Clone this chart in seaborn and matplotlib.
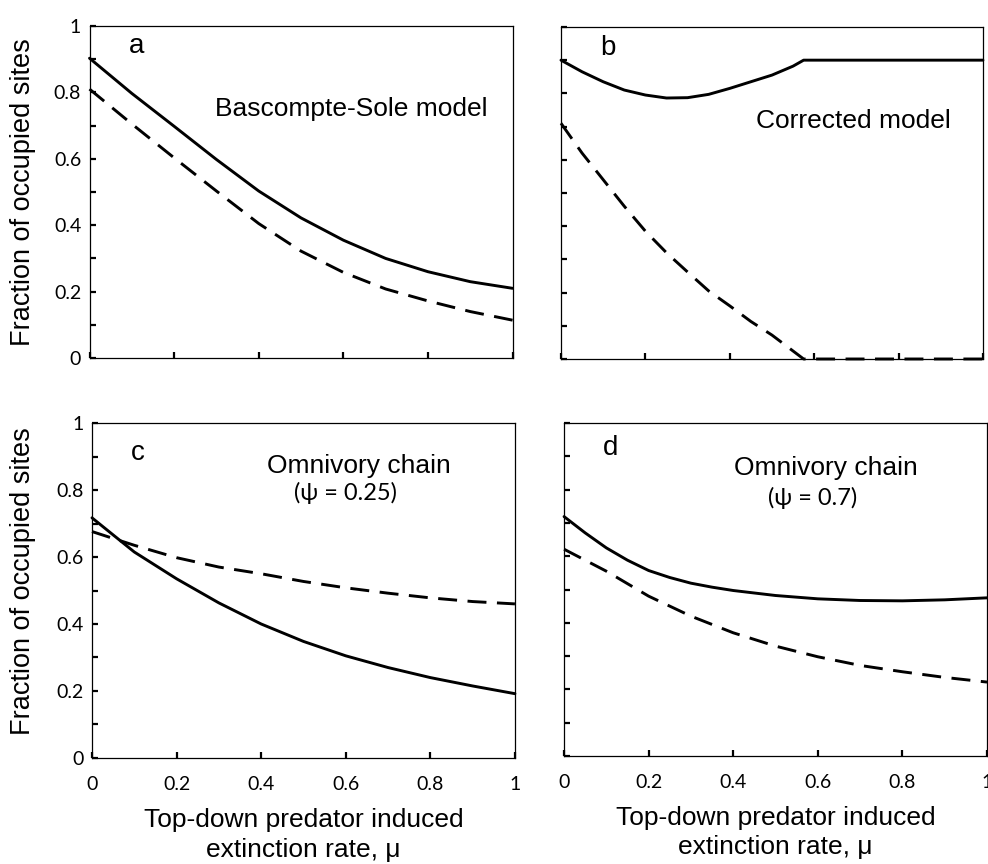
import matplotlib
matplotlib.use("Agg")
import matplotlib.pyplot as plt
import seaborn as sns
from matplotlib.ticker import MultipleLocator

# values
mu = [0.0, 0.1, 0.2, 0.3, 0.4, 0.5, 0.6, 0.7, 0.8, 0.9, 1.0]

# a: Bascompte-Sole model
a_solid = [0.903, 0.797, 0.698, 0.598, 0.503, 0.422, 0.355, 0.300, 0.260, 0.230, 0.210]
a_dashed = [0.810, 0.705, 0.603, 0.503, 0.405, 0.322, 0.258, 0.208, 0.172, 0.140, 0.114]

# b: corrected model
mu_b = [0.0, 0.05, 0.1, 0.15, 0.2, 0.25, 0.3, 0.35, 0.4, 0.45, 0.5, 0.55, 0.575, 1.0]
b_solid = [0.900, 0.865, 0.835, 0.810, 0.795, 0.786, 0.787, 0.797, 0.815, 0.835, 0.855, 0.882, 0.900, 0.900]
mu_b_dash = [0.0, 0.05, 0.1, 0.15, 0.2, 0.25, 0.3, 0.35, 0.4, 0.45, 0.5, 0.575, 1.0]
b_dashed = [0.710, 0.620, 0.540, 0.460, 0.385, 0.320, 0.262, 0.205, 0.160, 0.113, 0.072, 0.0, 0.0]

# c: omnivory chain, psi = 0.25
c_solid = [0.717, 0.615, 0.535, 0.463, 0.400, 0.348, 0.305, 0.270, 0.240, 0.215, 0.192]
c_dashed = [0.676, 0.635, 0.598, 0.570, 0.550, 0.527, 0.508, 0.492, 0.478, 0.467, 0.460]

# d: omnivory chain, psi = 0.7
mu_d = [0.0, 0.05, 0.1, 0.15, 0.2, 0.25, 0.3, 0.35, 0.4, 0.5, 0.6, 0.7, 0.8, 0.9, 1.0]
d_solid = [0.719, 0.670, 0.625, 0.588, 0.557, 0.536, 0.519, 0.507, 0.497, 0.482, 0.472,
           0.467, 0.466, 0.469, 0.475]
d_dashed = [0.621, 0.555, 0.480, 0.420, 0.370, 0.330, 0.298, 0.272, 0.253, 0.236, 0.222]

tick_vals = [0, 0.2, 0.4, 0.6, 0.8, 1]
tick_labels = ["0", "0.2", "0.4", "0.6", "0.8", "1"]

sns.set_style("ticks")
plt.rcParams["font.family"] = ["Liberation Sans", "DejaVu Sans"]
plt.rcParams["xtick.direction"] = "in"
plt.rcParams["ytick.direction"] = "in"
plt.rcParams["text.color"] = "black"
plt.rcParams["axes.labelcolor"] = "black"
plt.rcParams["xtick.color"] = "black"
plt.rcParams["ytick.color"] = "black"

fig = plt.figure(figsize=(9.88, 8.64), dpi=100)

panels = [
    dict(rect=[0.0906, 0.5856, 0.4282, 0.3843], xs=mu, ys=a_solid, xd=mu, yd=a_dashed,
         letter="a", letter_pos=(0.111, 0.918),
         texts=[("Bascompte-Sole model", 0.618, 0.729, 19, "Liberation Sans")],
         xlab=False, ylab=True),
    dict(rect=[0.5678, 0.5845, 0.4271, 0.3843], xs=mu_b, ys=b_solid, xd=mu_b_dash, yd=b_dashed,
         letter="b", letter_pos=(0.11, 0.916),
         texts=[("Corrected model", 0.694, 0.697, 19, "Liberation Sans")],
         xlab=False, ylab=False),
    dict(rect=[0.0931, 0.1227, 0.4281, 0.3877], xs=mu, ys=c_solid, xd=mu, yd=c_dashed,
         letter="c", letter_pos=(0.109, 0.89),
         texts=[("Omnivory chain", 0.63, 0.85, 19, "Liberation Sans"),
                ("(ψ = 0.25)", 0.60, 0.77, 17, "Lato")],
         xlab=True, ylab=True),
    dict(rect=[0.5709, 0.125, 0.4281, 0.3854], xs=mu_d, ys=d_solid, xd=mu, yd=d_dashed,
         letter="d", letter_pos=(0.111, 0.904),
         texts=[("Omnivory chain", 0.62, 0.843, 19, "Liberation Sans"),
                ("(ψ = 0.7)", 0.587, 0.754, 17, "Lato")],
         xlab=True, ylab=False),
]

for p in panels:
    ax = fig.add_axes(p["rect"])
    sns.lineplot(x=p["xs"], y=p["ys"], ax=ax, color="black", lw=2.1, clip_on=False)
    sns.lineplot(x=p["xd"], y=p["yd"], ax=ax, color="black", lw=2.1, clip_on=False,
                 linestyle=(0, (6.5, 3.6)))
    ax.set_xlim(0, 1)
    ax.set_ylim(0, 1)
    ax.set_xticks(tick_vals)
    ax.set_yticks(tick_vals)
    ax.yaxis.set_minor_locator(MultipleLocator(0.1))
    ax.tick_params(axis="both", which="both", length=4, width=1.6, color="black")
    ax.tick_params(axis="x", pad=13)
    ax.tick_params(axis="y", pad=6)
    for s in ax.spines.values():
        s.set_linewidth(0.9)
        s.set_color("black")
    if p["xlab"]:
        ax.set_xticklabels(tick_labels, fontsize=14, family=["Lato", "DejaVu Sans"])
        ax.set_xlabel("Top-down predator induced\nextinction rate, μ", fontsize=19,
                      linespacing=1.28)
        ax.xaxis.set_label_coords(0.5, -0.15)
    else:
        ax.tick_params(labelbottom=False)
        ax.set_xlabel("")
    if p["ylab"]:
        ax.set_yticklabels(tick_labels, fontsize=14, family=["Lato", "DejaVu Sans"])
    else:
        ax.tick_params(labelleft=False)
    ax.set_ylabel("")

    ax.text(p["letter_pos"][0], p["letter_pos"][1], p["letter"], transform=ax.transAxes,
            ha="center", va="baseline", fontsize=20)
    for txt, x, y, fs, fam in p["texts"]:
        ax.text(x, y, txt, transform=ax.transAxes, ha="center", va="baseline",
                fontsize=fs, family=[fam, "DejaVu Sans"])

fig.text(23 / 988, 1 - 192 / 864, "Fraction of occupied sites", rotation=90,
         ha="center", va="center", fontsize=19.5)
fig.text(23 / 988, 1 - 581 / 864, "Fraction of occupied sites", rotation=90,
         ha="center", va="center", fontsize=19.5)

fig.savefig("out.png", dpi=100)
